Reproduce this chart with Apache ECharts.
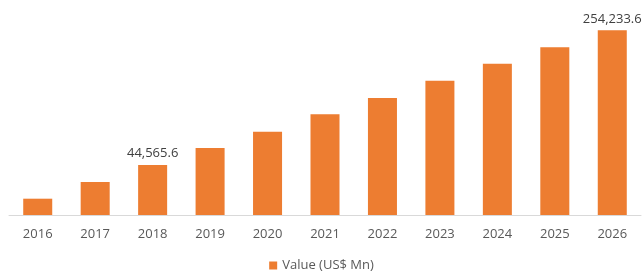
<!DOCTYPE html>
<html>
<head>
<meta charset="utf-8">
<script src="https://cdn.jsdelivr.net/npm/echarts@6/dist/echarts.min.js"></script>
<style>
    html, body { margin: 0; padding: 0; background: #fff; }
    #MarketValue { width: 643px; height: 274px; }
</style>
</head>
<body>
<div id="MarketValue"></div>
<script>
// 年份与数值（US$ Mn），只有 2018 和 2026 有标注，其余按柱高估计
const years = ['2016', '2017', '2018', '2019', '2020', '2021', '2022', '2023', '2024', '2025', '2026'];
const values = [28830, 35780, 44565.6, 55530, 68550, 85840, 105960, 132560, 165100, 204100, 254233.6];
const labeledYears = ['2018', '2026'];
const seriesName = 'Value (US$ Mn)';

const myChart = echarts.init(document.getElementById('MarketValue'));

const option = {
    animation: false,
    textStyle: {
        fontFamily: 'Open Sans'
    },
    grid: {
        top: 30,
        left: 9,
        right: 2,
        bottom: 59
    },
    legend: {
        data: [seriesName],
        bottom: -3,
        left: 'center',
        icon: 'rect',
        itemWidth: 8,
        itemHeight: 8,
        itemGap: 5,
        textStyle: {
            color: '#595959',
            fontSize: 13
        }
    },
    xAxis: {
        type: 'category',
        data: years,
        axisLine: {
            lineStyle: {
                color: '#d9d9d9'
            }
        },
        axisTick: { show: false },
        axisLabel: {
            color: '#595959',
            fontSize: 13,
            margin: 13
        }
    },
    yAxis: {
        type: 'log',
        min: 23350,
        max: 255224,
        show: false,
        splitLine: { show: false }
    },
    series: [
        {
            name: seriesName,
            type: 'bar',
            barWidth: '50.5%',
            itemStyle: {
                color: '#ED7D31'
            },
            label: {
                color: '#404040',
                fontSize: 13,
                distance: 5
            },
            data: values.map((v, i) => ({
                value: v,
                label: {
                    show: labeledYears.includes(years[i]),
                    position: 'top',
                    formatter: p => p.value.toLocaleString('en-US', { minimumFractionDigits: 1, maximumFractionDigits: 1 })
                }
            }))
        }
    ]
};

myChart.setOption(option);
</script>
</body>
</html>
